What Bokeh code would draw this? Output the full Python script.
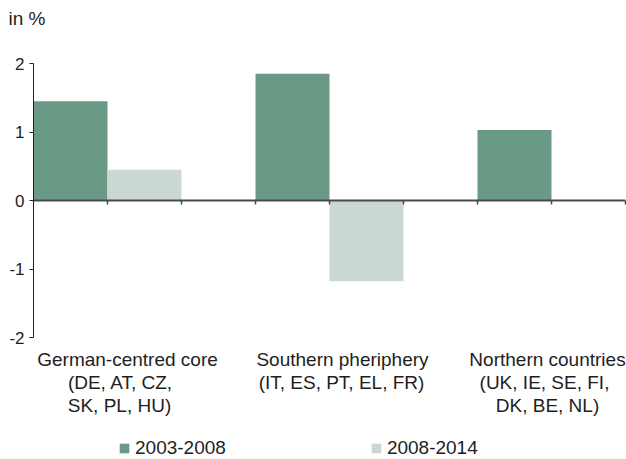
from bokeh.plotting import figure
from bokeh.models import (ColumnDataSource, FixedTicker, Label, Legend, LegendItem)
from bokeh.embed import file_html
from bokeh.resources import INLINE

# ---- data ----
groups = ["German-centred core", "Southern pheriphery", "Northern countries"]
group_members = [["(DE, AT, CZ,", "SK, PL, HU)"],
                 ["(IT, ES, PT, EL, FR)"],
                 ["(UK, IE, SE, FI,", "DK, BE, NL)"]]
series = ["2003-2008", "2008-2014"]
v_2003_2008 = [1.45, 1.85, 1.03]
v_2008_2014 = [0.45, -1.18, 0.0]
y_ticks = [-2, -1, 0, 1, 2]
unit_label = "in %"

# ---- styling / layout ----
GREEN = "#6a9a86"
GREY = "#cbd7d1"
FONT = "Liberation Sans"
TXT = "#1e1e1e"
W, H = 626, 459
AX_LEFT = 33      # px of y axis from canvas left
AX_TOP = 63       # px of y=2 from canvas top
PX_X = 74.0       # px per bar slot
PX_Y = 68.5       # px per y unit

n_series = len(series)
slot = n_series + 1
idx = list(range(len(groups)))
x1 = [i * slot + 0.5 for i in idx]
x2 = [i * slot + 1.5 for i in idx]
centers = [i * slot + n_series / 2 for i in idx]
x_end = len(groups) * slot - 1
y_min, y_max = min(y_ticks), max(y_ticks)

x_start = -AX_LEFT / PX_X
x_stop = x_start + W / PX_X
y_top = y_max + AX_TOP / PX_Y
y_bot = y_top - H / PX_Y

def dx(px):
    return px / PX_X

def dy(px):
    return px / PX_Y

src1 = ColumnDataSource(dict(x=x1, top=v_2003_2008))
src2 = ColumnDataSource(dict(x=x2, top=v_2008_2014))

p = figure(width=W, height=H, x_range=(x_start, x_stop), y_range=(y_bot, y_top),
           output_backend="svg", toolbar_location=None,
           min_border_left=0, min_border_right=0, min_border_top=0,
           min_border_bottom=0)
p.outline_line_color = None
p.grid.visible = False
p.background_fill_color = "white"

r1 = p.vbar(x="x", top="top", bottom=0, width=1.0, source=src1,
            fill_color=GREEN, line_color=None)
r2 = p.vbar(x="x", top="top", bottom=0, width=1.0, source=src2,
            fill_color=GREY, line_color=None)

# y axis
ya = p.yaxis[0]
ya.fixed_location = 0
ya.bounds = (y_min, y_max)
ya.ticker = FixedTicker(ticks=y_ticks)
ya.major_label_overrides = {t: str(t) for t in y_ticks}
ya.minor_tick_line_color = None
ya.major_tick_out = 4
ya.major_tick_in = 0
ya.major_label_standoff = 5
ya.axis_line_color = "#222222"
ya.major_tick_line_color = "#222222"
ya.major_label_text_font = FONT
ya.major_label_text_font_size = "17px"
ya.major_label_text_color = TXT

# x axis at zero
xa = p.xaxis[0]
xa.fixed_location = 0
xa.bounds = (0, x_end)
x_tick_list = list(range(1, x_end + 1))
xa.ticker = FixedTicker(ticks=x_tick_list)
xa.major_label_overrides = {t: "" for t in x_tick_list}
xa.minor_tick_line_color = None
xa.major_tick_out = 4
xa.major_tick_in = 0
xa.axis_line_color = "#4a4a4a"
xa.axis_line_width = 2
xa.major_tick_line_color = "#4a4a4a"
xa.major_tick_line_width = 1.5

# unit label
p.add_layout(Label(x=x_start + dx(8), y=y_max + dy(45), text=unit_label,
                   text_font=FONT, text_font_size="19px", text_color=TXT,
                   text_baseline="middle", text_align="left"))

# category labels
line_offsets = [[20, 13, 12], [13, 12], [-4, -7, -4]]
for g, name in enumerate(groups):
    lines = [name] + group_members[g]
    for k, line in enumerate(lines):
        p.add_layout(Label(x=centers[g] + dx(line_offsets[g][k]),
                           y=y_min - dy(22 + 23 * k), text=line,
                           text_font=FONT, text_font_size="19px",
                           text_color=TXT, text_align="center",
                           text_baseline="middle"))

legend = Legend(items=[LegendItem(label=series[0], renderers=[r1]),
                       LegendItem(label=series[1], renderers=[r2])],
                orientation="horizontal", location=(118, 0),
                glyph_width=12, glyph_height=12, label_standoff=5,
                spacing=144, padding=0, margin=0,
                label_text_font=FONT, label_text_font_size="19px",
                label_text_color=TXT, border_line_color=None,
                background_fill_alpha=0)
p.add_layout(legend, "center")

open("out.html", "w").write(file_html(p, INLINE))
